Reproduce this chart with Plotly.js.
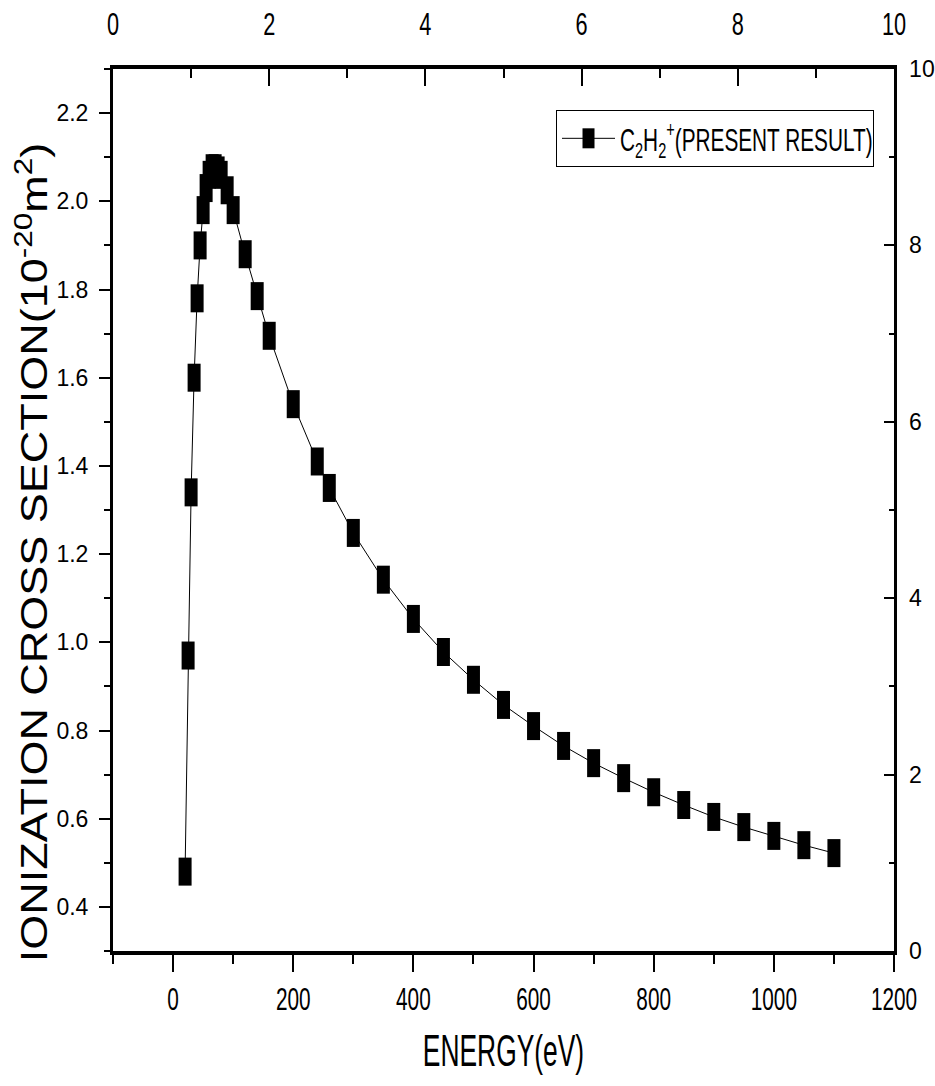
<!DOCTYPE html>
<html>
<head>
<meta charset="utf-8">
<script src="https://cdn.plot.ly/plotly-3.0.1.min.js"></script>
<style>html,body{margin:0;padding:0;background:#fff;}#chart{width:935px;height:1086px;}</style>
</head>
<body>
<div id="chart"></div>
<script>
// Electron energy (eV)
const energy = [20, 25, 30, 35, 40, 45, 50, 55, 60, 65, 70, 75, 80, 90, 100, 120, 140, 160, 200, 240, 260, 300, 350, 400, 450, 500, 550, 600, 650, 700, 750, 800, 850, 900, 950, 1000, 1050, 1100];
// Ionization cross section (1e-20 m^2)
const crossSection = [0.48, 0.97, 1.34, 1.60, 1.78, 1.90, 1.98, 2.03, 2.06, 2.075, 2.075, 2.07, 2.06, 2.025, 1.98, 1.88, 1.785, 1.695, 1.54, 1.41, 1.35, 1.248, 1.142, 1.053, 0.978, 0.915, 0.858, 0.81, 0.765, 0.726, 0.692, 0.66, 0.631, 0.604, 0.581, 0.561, 0.54, 0.522];
const seriesName = 'C<sub>2</sub>H<sub>2</sub><sup>+</sup>(PRESENT RESULT)';
const xTicks = [0, 200, 400, 600, 800, 1000, 1200];
const yTicks = [0.4, 0.6, 0.8, 1.0, 1.2, 1.4, 1.6, 1.8, 2.0, 2.2];
const yTickText = ['0.4', '0.6', '0.8', '1.0', '1.2', '1.4', '1.6', '1.8', '2.0', '2.2'];
const topTicks = [0, 2, 4, 6, 8, 10];
const rightTicks = [0, 2, 4, 6, 8, 10];

const font = 'Liberation Sans, Arial, sans-serif';

const traces = [
  {
    x: energy, y: crossSection, type: 'scatter', mode: 'lines+markers',
    name: seriesName,
    line: {color: '#000', width: 1},
    marker: {symbol: 'line-ns', size: 20, color: '#000', line: {color: '#000', width: 13}},
    xaxis: 'x', yaxis: 'y'
  },
  {
    x: topTicks, y: rightTicks, type: 'scatter', mode: 'none',
    showlegend: false, hoverinfo: 'skip', xaxis: 'x2', yaxis: 'y2'
  }
];

const layout = {
  width: 935, height: 1086,
  margin: {l: 113, r: 41, t: 69, b: 135},
  paper_bgcolor: '#fff', plot_bgcolor: '#fff',
  showlegend: true,
  legend: {
    orientation: 'h', entrywidth: 248, itemwidth: 53,
    x: 0.9744, y: 0.9535, xanchor: 'right', yanchor: 'top',
    bordercolor: '#000', borderwidth: 1, bgcolor: '#fff',
    font: {family: font, size: 32, color: '#000'}
  },
  xaxis: {
    range: [-100, 1200], tickvals: xTicks, ticks: 'outside', ticklen: 17, tickwidth: 2,
    minor: {dtick: 100, tick0: 0, ticks: 'outside', ticklen: 9, tickwidth: 2, tickcolor: '#000'},
    showline: true, linewidth: 4, linecolor: '#000', showgrid: false, zeroline: false,
    tickcolor: '#000', ticklabelstandoff: 0,
    tickfont: {family: font, size: 32, color: '#000'},
    title: {text: 'ENERGY(eV)', standoff: 20, font: {family: font, size: 44, color: '#000'}}
  },
  yaxis: {
    range: [0.3, 2.3], tickvals: yTicks, ticktext: yTickText, ticks: 'outside', ticklen: 11, tickwidth: 2,
    minor: {dtick: 0.1, tick0: 0.3, ticks: 'outside', ticklen: 6, tickwidth: 2, tickcolor: '#000'},
    showline: true, linewidth: 3, linecolor: '#000', showgrid: false, zeroline: false,
    tickcolor: '#000', ticklabelstandoff: 6,
    tickfont: {family: font, size: 23, color: '#000'}
  },
  xaxis2: {
    overlaying: 'x', side: 'top', anchor: 'y2', range: [0, 10], tickvals: topTicks,
    ticks: 'inside', ticklen: 17, tickwidth: 2, tickcolor: '#000',
    minor: {dtick: 1, tick0: 0, ticks: 'inside', ticklen: 9, tickwidth: 2, tickcolor: '#000'},
    showline: true, linewidth: 4, linecolor: '#000', showgrid: false, zeroline: false,
    ticklabelstandoff: 17,
    tickfont: {family: font, size: 32, color: '#000'}
  },
  yaxis2: {
    overlaying: 'y', side: 'right', anchor: 'x2', range: [0, 10], tickvals: rightTicks,
    ticks: 'inside', ticklen: 10, tickwidth: 2, tickcolor: '#000',
    minor: {dtick: 1, tick0: 0, ticks: 'inside', ticklen: 5, tickwidth: 2, tickcolor: '#000'},
    showline: true, linewidth: 2.5, linecolor: '#000', showgrid: false, zeroline: false,
    ticklabelstandoff: 8,
    tickfont: {family: font, size: 23, color: '#000'}
  },
  annotations: [{
    xref: 'paper', yref: 'paper', x: -0.1037, y: 0.452, xanchor: 'center', yanchor: 'middle',
    textangle: -90, showarrow: false,
    text: 'IONIZATION CROSS SECTION(10<sup>-20</sup>m<sup>2</sup>)',
    font: {family: font, size: 36, color: '#000'}
  }]
};

// Horizontal width adjustment of text (the reference uses a condensed face)
function squeeze(nodes, f, anchor) {
  nodes.forEach(function (el) {
    const bb = el.getBBox();
    const cx = anchor === 'start' ? bb.x : bb.x + bb.width / 2;
    const t = el.getAttribute('transform') || '';
    el.setAttribute('transform', t + ' translate(' + cx + ',0) scale(' + f + ',1) translate(' + (-cx) + ',0)');
  });
}

Plotly.newPlot('chart', traces, layout, {displayModeBar: false, staticPlot: true}).then(function () {
  const root = document.getElementById('chart');
  squeeze(root.querySelectorAll('.xtick text'), 0.65, 'middle');
  squeeze(root.querySelectorAll('.x2tick text'), 0.68, 'middle');
  squeeze(root.querySelectorAll('.legendtext'), 0.65, 'start');
  squeeze(root.querySelectorAll('.g-xtitle text'), 0.6, 'middle');
  squeeze(root.querySelectorAll('.annotation-text'), 1.25, 'middle');
  root.querySelectorAll('.legendpoints path.scatterpts').forEach(function (p) {
    p.setAttribute('d', 'M0,10V-10');
    p.style.strokeWidth = '12px';
  });
});
</script>
</body>
</html>
